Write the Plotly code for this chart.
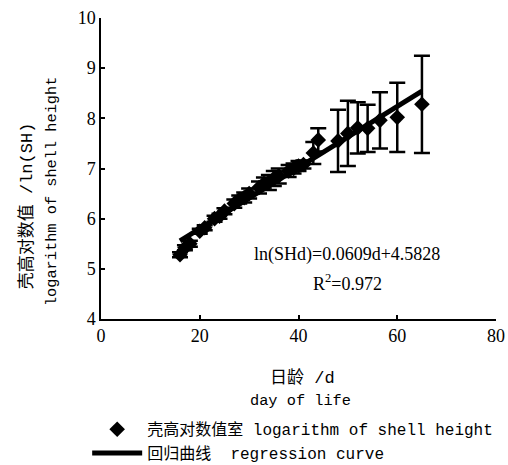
import plotly.graph_objects as go

# ---- data ----
days = [16, 17, 18, 20, 21, 23, 24, 25, 27, 28, 29, 30, 32, 33, 34, 35, 36, 38, 39, 40, 41, 43, 44, 48, 50, 52, 54, 56.5, 60, 65]
ln_sh = [5.28, 5.42, 5.5, 5.75, 5.82, 6.0, 6.05, 6.15, 6.3, 6.38, 6.42, 6.5, 6.62, 6.7, 6.72, 6.8, 6.85, 6.95, 7.0, 7.05, 7.08, 7.31, 7.57, 7.55, 7.7, 7.81, 7.8, 7.96, 8.02, 8.28]
err = [0.05, 0.05, 0.06, 0.05, 0.05, 0.06, 0.05, 0.06, 0.08, 0.08, 0.1, 0.1, 0.12, 0.12, 0.15, 0.15, 0.15, 0.12, 0.1, 0.1, 0.08, 0.22, 0.23, 0.62, 0.65, 0.51, 0.47, 0.56, 0.69, 0.97]
slope = 0.0609
intercept = 4.5828
fit_x = [16, 65]
fit_y = [slope * d + intercept for d in fit_x]

x_ticks = [0, 20, 40, 60, 80]
y_ticks = [4, 5, 6, 7, 8, 9, 10]

serif = "Liberation Serif, Times New Roman, serif"
mono = "Liberation Mono, Noto Sans CJK SC, monospace"

fig = go.Figure()
fig.add_trace(go.Scatter(
    x=days, y=ln_sh, mode="markers",
    name="壳高对数值室 logarithm of shell height",
    marker=dict(symbol="diamond", size=12, color="black"),
    error_y=dict(type="data", array=err, visible=True, color="black", thickness=2.5, width=8),
))
fig.add_trace(go.Scatter(
    x=fit_x, y=fit_y, mode="lines",
    name="回归曲线  regression curve",
    line=dict(color="black", width=5),
))

fig.update_layout(
    width=508, height=465,
    margin=dict(l=101, r=12, t=18, b=146, autoexpand=False),
    paper_bgcolor="white", plot_bgcolor="white",
    showlegend=True,
    legend=dict(x=-0.035, y=-0.31, xanchor="left", yanchor="top",
                font=dict(family=mono, size=16, color="black"),
                itemwidth=50, tracegroupgap=0, bgcolor="rgba(0,0,0,0)"),
    xaxis=dict(range=[0, 80], tickvals=x_ticks, showgrid=False, zeroline=False,
               showline=True, linecolor="black", linewidth=1.5,
               ticks="inside", ticklen=4, tickcolor="black", tickwidth=1.5,
               tickfont=dict(family=serif, size=18, color="black")),
    yaxis=dict(range=[4, 10], tickvals=y_ticks, showgrid=False, zeroline=False,
               showline=True, linecolor="black", linewidth=1.5,
               ticks="inside", ticklen=4, tickcolor="black", tickwidth=1.5,
               tickfont=dict(family=serif, size=18, color="black")),
)

annos = [
    dict(text="ln(SHd)=0.0609d+4.5828", x=0.623, y=0.213, font=dict(family=serif, size=18)),
    dict(text="R<sup>2</sup>=0.972", x=0.623, y=0.12, font=dict(family=serif, size=18)),
    dict(text="壳高对数值 /ln(SH)", x=-0.187, y=0.375, textangle=-90, font=dict(family=mono, size=17)),
    dict(text="logarithm of shell height", x=-0.124, y=0.425, textangle=-90, font=dict(family=mono, size=15.3)),
    dict(text="日龄 /d", x=0.509, y=-0.196, font=dict(family=mono, size=17)),
    dict(text="day of life", x=0.504, y=-0.272, font=dict(family=mono, size=15.3)),
]
for a in annos:
    a.update(xref="paper", yref="paper", showarrow=False, xanchor="center", yanchor="middle")
    a["font"]["color"] = "black"
    fig.add_annotation(**a)

fig.write_html("out.html")
